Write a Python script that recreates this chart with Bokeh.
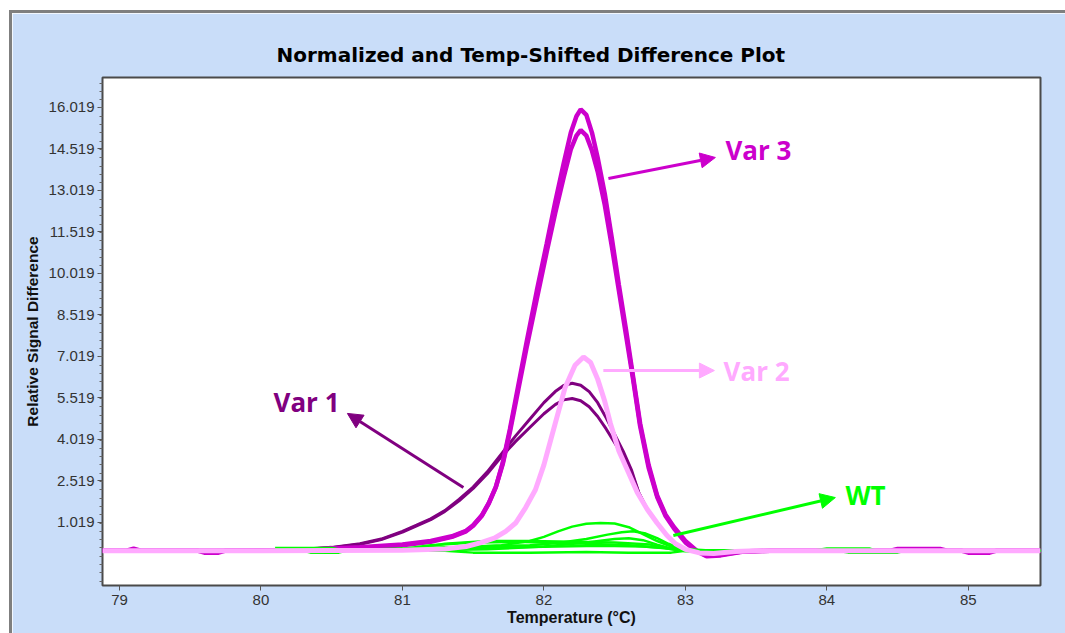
from bokeh.plotting import figure
from bokeh.models import Range1d, FixedTicker, Arrow, NormalHead, Label, Spacer
from bokeh.layouts import column, row
from bokeh.embed import file_html
from bokeh.resources import INLINE

# ---- melt-curve difference data (temperature in °C, relative signal difference) ----
var3a_t = [78.88, 79.05, 79.1, 79.15, 79.55, 79.6, 79.7, 79.75, 80.0, 80.4, 80.7, 81.0, 81.2, 81.35,
           81.45, 81.5, 81.56, 81.61, 81.66, 81.71, 81.76, 81.82, 81.88, 81.95, 82.02, 82.08, 82.14,
           82.19, 82.23, 82.26, 82.30, 82.34, 82.38, 82.43, 82.48, 82.53, 82.58, 82.63, 82.68, 82.74,
           82.80, 82.86, 82.92, 83.00, 83.08, 83.15, 83.25, 83.40, 83.60, 84.45, 84.5, 84.8, 84.85,
           84.95, 85.0, 85.15, 85.2, 85.51]
var3a_s = [0.0, 0.0, 0.07, 0.0, 0.0, -0.07, -0.07, 0.0, 0.01, 0.04, 0.1, 0.2, 0.32, 0.5,
           0.7, 0.9, 1.25, 1.7, 2.3, 3.2, 4.4, 6.0, 7.6, 9.4, 11.1, 12.6, 14.0,
           15.1, 15.7, 15.95, 15.75, 15.1, 14.2, 12.9, 11.3, 9.6, 8.0, 6.3, 4.6, 3.1,
           2.0, 1.3, 0.85, 0.35, 0.0, -0.18, -0.15, -0.03, 0.0, 0.0, 0.06, 0.06, 0.0,
           0.0, -0.07, -0.07, 0.0, 0.0]

var3b_t = [78.88, 80.0, 80.4, 80.7, 81.0, 81.2, 81.35, 81.45, 81.5, 81.56, 81.61, 81.66, 81.71,
           81.76, 81.82, 81.88, 81.95, 82.02, 82.08, 82.14, 82.19, 82.23, 82.26, 82.30, 82.34,
           82.38, 82.43, 82.48, 82.53, 82.58, 82.63, 82.68, 82.74, 82.80, 82.86, 82.92, 83.00,
           83.08, 83.15, 83.25, 83.40, 83.60, 85.51]
var3b_s = [0.0, 0.01, 0.05, 0.12, 0.22, 0.35, 0.52, 0.72, 0.92, 1.27, 1.72, 2.3, 3.15,
           4.3, 5.85, 7.4, 9.1, 10.8, 12.2, 13.5, 14.5, 15.0, 15.2, 15.0, 14.45,
           13.7, 12.5, 11.0, 9.4, 7.8, 6.2, 4.5, 3.0, 1.95, 1.25, 0.8, 0.3,
           -0.02, -0.2, -0.17, -0.04, 0.0, 0.0]

var2_t = [78.88, 80.0, 81.0, 81.3, 81.45, 81.55, 81.65, 81.73, 81.8, 81.87, 81.94, 82.0, 82.08,
          82.15, 82.22, 82.28, 82.33, 82.38, 82.43, 82.47, 82.53, 82.6, 82.66, 82.73, 82.8,
          82.87, 82.93, 83.0, 83.1, 83.2, 83.35, 83.5, 85.51]
var2_s = [0.0, 0.0, 0.02, 0.06, 0.15, 0.28, 0.45, 0.7, 1.0, 1.55, 2.2, 3.1, 4.6,
          5.9, 6.7, 7.0, 6.8, 6.2, 5.4, 4.6, 3.6, 2.8, 2.1, 1.5, 1.0,
          0.55, 0.25, 0.05, -0.08, -0.1, -0.03, 0.0, 0.0]

var1_t = [78.88, 80.0, 80.3, 80.5, 80.7, 80.85, 81.0, 81.1, 81.2, 81.3, 81.4, 81.5, 81.6, 81.7,
          81.8, 81.9, 82.0, 82.08, 82.14, 82.2, 82.26, 82.32, 82.38, 82.44, 82.5, 82.56, 82.62,
          82.67, 82.73, 82.8, 82.87, 82.93, 83.0, 83.1, 85.51]
var1a_s = [0.0, 0.01, 0.05, 0.12, 0.25, 0.42, 0.7, 0.92, 1.15, 1.45, 1.85, 2.3, 2.85, 3.5,
           4.15, 4.75, 5.35, 5.75, 5.97, 6.05, 5.98, 5.75, 5.35, 4.8, 4.2, 3.6, 2.9,
           2.1, 1.5, 1.0, 0.55, 0.25, 0.05, 0.0, 0.0]
var1b_s = [0.0, 0.01, 0.05, 0.11, 0.23, 0.4, 0.67, 0.9, 1.12, 1.42, 1.8, 2.25, 2.78, 3.4,
           3.95, 4.45, 4.95, 5.28, 5.45, 5.5, 5.42, 5.2, 4.85, 4.4, 3.9, 3.4, 2.8,
           2.1, 1.5, 1.0, 0.55, 0.25, 0.05, 0.0, 0.0]

wt1_t = [80.15, 80.6, 81.0, 81.4, 81.7, 81.9, 82.0, 82.1, 82.2, 82.3, 82.4, 82.5, 82.6, 82.7,
         82.8, 82.9, 83.0, 83.2, 85.51]
wt1_s = [0.0, 0.02, 0.08, 0.12, 0.2, 0.35, 0.5, 0.7, 0.87, 0.97, 1.0, 0.98, 0.85, 0.6,
         0.35, 0.15, 0.06, 0.0, 0.0]
wt2_t = [80.1, 80.5, 80.6, 81.0, 81.5, 81.9, 82.1, 82.3, 82.45, 82.55, 82.63, 82.72, 82.8,
         82.88, 82.95, 83.05, 83.2, 83.9, 84.0, 84.3, 84.35, 85.51]
wt2_s = [0.1, 0.1, 0.0, 0.05, 0.15, 0.2, 0.28, 0.42, 0.58, 0.67, 0.7, 0.62, 0.45,
         0.25, 0.1, 0.02, 0.0, 0.0, 0.08, 0.08, 0.0, 0.0]
wt3_t = [80.3, 80.35, 80.55, 80.6, 81.0, 81.6, 82.0, 82.3, 82.5, 82.6, 82.7, 82.8, 82.9,
         83.0, 84.1, 84.15, 84.5, 84.55, 85.51]
wt3_s = [0.0, -0.07, -0.07, 0.0, 0.0, 0.05, 0.15, 0.3, 0.42, 0.45, 0.38, 0.22, 0.08,
         -0.02, -0.02, -0.07, -0.07, 0.0, 0.0]
wt4_t = [80.9, 81.2, 81.5, 81.8, 82.0, 82.3, 82.6, 82.85, 83.0, 85.51]
wt4_s = [0.0, 0.2, 0.3, 0.32, 0.3, 0.25, 0.2, 0.1, 0.0, 0.0]
wt5_t = [81.0, 81.3, 81.6, 81.9, 82.2, 82.5, 82.75, 82.9, 83.1, 83.3, 85.51]
wt5_s = [0.0, 0.25, 0.35, 0.35, 0.32, 0.3, 0.22, 0.05, -0.05, 0.0, 0.0]
wt6_t = [80.2, 81.3, 81.5, 81.9, 82.3, 82.6, 82.9, 83.0, 85.51]
wt6_s = [0.0, 0.0, -0.07, -0.07, -0.05, -0.07, -0.07, 0.0, 0.0]
wt7_t = [81.2, 81.5, 81.8, 82.1, 82.4, 82.7, 82.95, 83.1, 85.51]
wt7_s = [0.0, 0.08, 0.12, 0.15, 0.18, 0.15, 0.05, 0.0, 0.0]

x_ticks = [79, 80, 81, 82, 83, 84, 85]
y_ticks = [1.019, 2.519, 4.019, 5.519, 7.019, 8.519, 10.019, 11.519, 13.019, 14.519, 16.019]
y_minor = [round(-1.1 + 0.3 * i, 3) for i in range(62)]

# ---- styling ----
PANEL_BLUE = "#C9DDF9"
FRAME_GREY = "#7f7f7f"
C_VAR1 = "#800080"
C_VAR2 = "#FFAAFF"
C_VAR3 = "#CC00CC"
C_WT = "#00FF00"

p = figure(width=1053, height=620, output_backend="svg", toolbar_location=None,
           x_range=Range1d(78.88, 85.51), y_range=Range1d(-1.258, 17.10),
           min_border_left=90, min_border_right=25, min_border_top=64, min_border_bottom=48)

p.background_fill_color = "white"
p.border_fill_color = PANEL_BLUE
p.outline_line_color = "#4a4a4a"
p.outline_line_width = 2
p.grid.visible = False

p.title.text = "Normalized and Temp-Shifted Difference Plot"
p.title.text_font = "DejaVu Sans"
p.title.text_font_style = "bold"
p.title.text_font_size = "20px"
p.title.text_color = "#000000"
p.title.align = "left"
p.title.offset = 174
p.title.standoff = 21

p.xaxis.ticker = FixedTicker(ticks=x_ticks)
p.xaxis.axis_label = "Temperature (°C)"
p.yaxis.ticker = FixedTicker(ticks=y_ticks, minor_ticks=y_minor)
p.yaxis.axis_label = "Relative Signal Difference"

for ax in (p.xaxis[0], p.yaxis[0]):
    ax.axis_line_color = None
    ax.major_tick_line_color = "#555555"
    ax.major_tick_in = 0
    ax.major_tick_out = 5
    ax.major_label_text_font = "Liberation Sans"
    ax.major_label_text_font_size = "15px"
    ax.major_label_text_color = "#333333"
    ax.axis_label_text_font = "Liberation Sans"
    ax.axis_label_text_font_style = "bold"
    ax.axis_label_text_color = "#111111"

p.xaxis.minor_tick_line_color = None
p.xaxis.major_label_standoff = 4
p.xaxis.axis_label_text_font_size = "16px"
p.xaxis.axis_label_standoff = 1
p.yaxis.minor_tick_line_color = "#666666"
p.yaxis.minor_tick_in = 0
p.yaxis.minor_tick_out = 3
p.yaxis.major_label_standoff = 3
p.yaxis.axis_label_text_font_size = "15.5px"
p.yaxis.axis_label_standoff = 5

# ---- curves ----
p.line(var1_t, var1a_s, line_color=C_VAR1, line_width=3)
p.line(var1_t, var1b_s, line_color=C_VAR1, line_width=3)
p.line(var3a_t, var3a_s, line_color=C_VAR3, line_width=4.5)
p.line(var3b_t, var3b_s, line_color=C_VAR3, line_width=4.5)
for t, s in ((wt1_t, wt1_s), (wt2_t, wt2_s), (wt3_t, wt3_s), (wt4_t, wt4_s),
             (wt5_t, wt5_s), (wt6_t, wt6_s), (wt7_t, wt7_s)):
    p.line(t, s, line_color=C_WT, line_width=2.5)
p.line(var2_t, var2_s, line_color=C_VAR2, line_width=5)

# ---- call-out arrows and labels ----
callouts = [
    # text, colour, arrow start, arrow end, label position, label alignment
    ("Var 3", C_VAR3, (82.456, 13.45), (83.212, 14.21), (83.283, 14.47), "left"),
    ("Var 2", C_VAR2, (82.42, 6.51), (83.205, 6.51), (83.27, 6.51), "left"),
    ("Var 1", C_VAR1, (81.431, 2.28), (80.611, 4.96), (80.322, 5.36), "center"),
    ("WT", C_WT, (82.915, 0.55), (84.06, 1.92), (84.131, 2.0), "left"),
]
for text, color, start, end, pos, align in callouts:
    p.add_layout(Arrow(x_start=start[0], y_start=start[1], x_end=end[0], y_end=end[1],
                       line_color=color, line_width=3,
                       end=NormalHead(size=15, fill_color=color, line_color=color)))
    p.add_layout(Label(x=pos[0], y=pos[1], text=text, text_color=color,
                       text_font="Open Sans", text_font_style="bold", text_font_size="26px",
                       text_align=align, text_baseline="middle"))

# ---- outer panel frame ----
grey_left = Spacer(width=3, height=623, styles={"background-color": FRAME_GREY})
grey_top = Spacer(width=1053, height=3, styles={"background-color": FRAME_GREY})
layout = column(Spacer(width=1065, height=10),
                row(Spacer(width=9, height=623), grey_left, column(grey_top, p)))

open("out.html", "w").write(file_html(layout, INLINE))
